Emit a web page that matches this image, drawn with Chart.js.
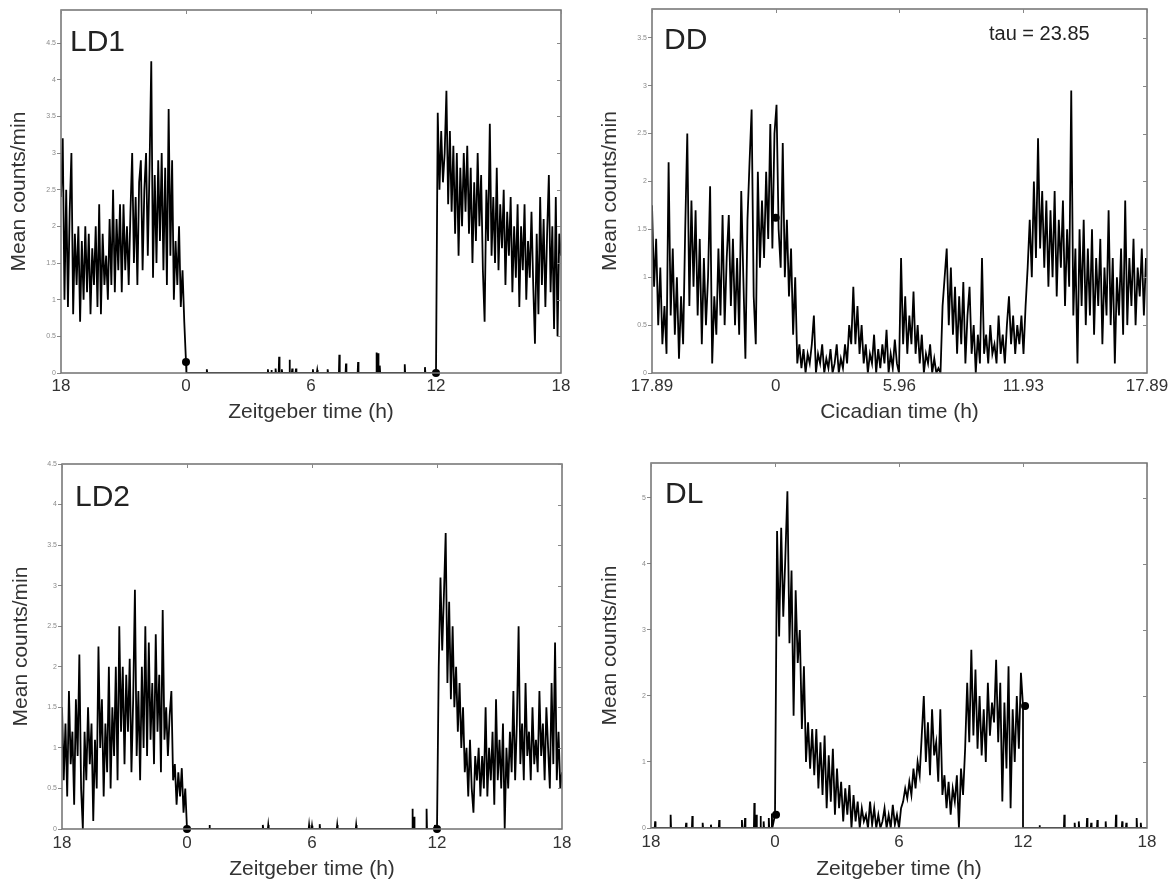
<!DOCTYPE html>
<html>
<head>
<meta charset="utf-8">
<title>Activity profiles</title>
<script src="https://cdn.jsdelivr.net/npm/chart.js@4.4.1/dist/chart.umd.min.js"></script>
<style>
  body { margin: 0; background: #fff; }
  #wrap { position: relative; width: 1173px; height: 884px; }
  canvas { position: absolute; }
</style>
</head>
<body>
<div id="wrap">
  <canvas id="ld1" width="586" height="440" style="left:0;top:0"></canvas>
  <canvas id="dd" width="587" height="440" style="left:586px;top:0"></canvas>
  <canvas id="ld2" width="586" height="444" style="left:0;top:440px"></canvas>
  <canvas id="dl" width="587" height="444" style="left:586px;top:440px"></canvas>
</div>
<script>
// axis ticks
const ldXTicks = [-6, 0, 6, 12, 18];
const ldXLabels = ['18', '0', '6', '12', '18'];
const ddXTicks = [-5.96, 0, 5.96, 11.93, 17.89];
const ddXLabels = ['17.89', '0', '5.96', '11.93', '17.89'];
const ldYTicks = [0, 0.5, 1, 1.5, 2, 2.5, 3, 3.5, 4, 4.5];
const ddYTicks = [0, 0.5, 1, 1.5, 2, 2.5, 3, 3.5];
const dlYTicks = [0, 1, 2, 3, 4, 5];

// LD1: 5-min bins, ZT18(-6) -> ZT0, then ZT12 -> ZT18
const ld1Pre = [
  2.4, 3.2, 1.0, 2.5, 0.9, 2.2, 3.0, 0.8, 1.9, 1.2, 2.0, 0.7,
  1.8, 1.0, 2.0, 1.1, 1.9, 0.8, 1.7, 1.2, 2.0, 0.9, 2.3, 0.8,
  1.9, 1.2, 1.6, 1.0, 2.1, 1.2, 2.5, 1.1, 2.1, 1.4, 2.3, 1.1,
  2.3, 1.4, 2.0, 1.2, 2.2, 3.0, 1.5, 2.4, 1.2, 2.6, 2.9, 1.4,
  2.5, 3.0, 1.6, 2.8, 4.25, 1.3, 2.7, 1.5, 2.9, 1.8, 3.0, 1.4,
  2.8, 1.2, 3.6, 1.6, 2.9, 1.0, 1.8, 1.2, 2.0, 0.9, 1.4, 0.7,
  0.15
];
const ld1Spikes = [
  [1.0, 0.05], [3.93, 0.05], [4.1, 0.04], [4.3, 0.06], [4.47, 0.22], [4.6, 0.05],
  [4.97, 0.18], [5.1, 0.06], [5.28, 0.06], [6.09, 0.05], [6.3, 0.04], [6.8, 0.05],
  [7.36, 0.25], [7.68, 0.13], [8.26, 0.15], [9.15, 0.28], [9.22, 0.27], [9.3, 0.1],
  [10.5, 0.12], [11.47, 0.08]
];
const ld1Post = [
  0.0, 3.55, 2.5, 3.3, 2.6, 3.0, 3.85, 2.3, 3.3, 2.2, 3.1, 1.9,
  3.0, 1.6, 2.8, 2.0, 3.0, 2.2, 3.1, 1.9, 2.8, 1.5, 2.6, 1.8,
  3.0, 2.0, 2.7, 1.4, 0.7, 2.5, 1.8, 3.4, 1.6, 2.4, 1.5, 2.8,
  1.4, 2.3, 1.7, 2.5, 1.2, 2.2, 1.6, 2.4, 1.1, 2.0, 1.3, 2.3,
  0.9, 2.0, 1.4, 2.3, 1.0, 1.8, 1.3, 2.2, 1.2, 0.4, 1.9, 0.8,
  2.4, 1.2, 2.1, 0.9, 1.9, 2.7, 1.1, 2.0, 0.6, 2.4, 0.5, 1.9,
  1.6
];
const ld1Dots = [[0, 0.15], [12, 0]];

// DD: 6-min bins from CT17.89(-5.96)
const ddVals = [
  1.75, 0.9, 1.4, 0.5, 1.1, 0.3, 0.7, 0.2, 2.2, 0.6,
  1.3, 0.4, 1.0, 0.15, 0.8, 0.3, 1.5, 2.5, 0.7, 1.8,
  0.9, 1.7, 0.6, 1.4, 0.3, 1.2, 0.5, 1.0, 1.95, 0.1,
  0.8, 0.4, 1.3, 0.6, 1.65, 0.5, 1.2, 1.65, 0.7, 1.4,
  0.5, 1.2, 0.4, 1.9, 1.0, 0.15, 1.6, 2.2, 2.75, 0.8,
  0.3, 2.1, 1.1, 1.8, 1.2, 2.1, 1.4, 2.6, 1.3, 2.5,
  2.8, 1.5, 1.1, 2.4, 1.0, 1.6, 0.8, 1.3, 0.4, 1.0,
  0.1, 0.3, 0.05, 0.25, 0.0, 0.2, 0.1, 0.3, 0.6, 0.0,
  0.2, 0.1, 0.3, 0.0, 0.15, 0.05, 0.25, 0.0, 0.1, 0.3,
  0.0, 0.15, 0.05, 0.3, 0.1, 0.5, 0.3, 0.9, 0.3, 0.7,
  0.2, 0.5, 0.1, 0.3, 0.0, 0.2, 0.1, 0.4, 0.0, 0.25,
  0.05, 0.3, 0.1, 0.45, 0.0, 0.2, 0.05, 0.35, 0.1, 0.0,
  1.2, 0.3, 0.8, 0.2, 0.6, 0.3, 0.85, 0.2, 0.5, 0.1,
  0.4, 0.0, 0.2, 0.1, 0.3, 0.0, 0.15, 0.0, 0.05, 0.0,
  0.7, 1.0, 1.3, 0.5, 1.1, 0.4, 0.9, 0.2, 0.8, 0.3,
  0.95, 0.1, 0.6, 0.9, 0.2, 0.5, 0.0, 0.4, 0.1, 1.2,
  0.2, 0.4, 0.1, 0.5, 0.2, 0.3, 0.1, 0.6, 0.2, 0.4,
  0.1, 0.5, 0.8, 0.3, 0.6, 0.2, 0.5, 0.3, 0.6, 0.2,
  0.7, 1.1, 1.6, 1.0, 2.0, 1.2, 2.45, 1.3, 1.9, 1.1,
  1.8, 0.9, 1.7, 1.0, 1.9, 0.8, 1.6, 1.1, 1.8, 0.7,
  1.5, 0.9, 2.95, 0.6, 1.3, 0.1, 1.5, 0.7, 1.6, 0.5,
  1.3, 0.6, 1.5, 0.4, 1.2, 0.7, 1.4, 0.3, 1.1, 0.6,
  1.7, 0.5, 1.2, 0.1, 1.0, 0.6, 1.3, 0.4, 1.8, 0.5,
  1.2, 0.7, 1.4, 0.5, 1.1, 0.8, 1.3, 0.6, 1.2, 0.9
];
const ddDots = [[0, 1.62]];

// LD2: 5-min bins
const ld2Pre = [
  1.5, 0.6, 1.3, 0.4, 1.7, 0.8, 1.2, 0.3, 1.6, 0.9, 2.15, 0.5,
  0.0, 1.2, 0.6, 1.5, 0.8, 1.3, 0.1, 1.1, 0.5, 2.25, 1.0, 1.6,
  0.4, 1.3, 0.7, 2.0, 0.5, 1.5, 0.9, 2.0, 0.6, 2.5, 1.2, 2.0,
  0.8, 1.9, 1.2, 2.1, 0.7, 1.6, 2.95, 0.9, 1.7, 0.6, 2.0, 1.0,
  2.5, 0.9, 2.3, 1.1, 1.8, 0.8, 2.4, 1.2, 1.9, 0.7, 2.7, 1.1,
  1.5, 0.9, 1.4, 1.7, 0.6, 0.8, 0.3, 0.7, 0.4, 0.75, 0.2, 0.5,
  0.0
];
const ld2Spikes = [
  [1.08, 0.05], [3.64, 0.05], [3.9, 0.05], [5.86, 0.05], [6.0, 0.04], [6.37, 0.06],
  [7.21, 0.05], [8.12, 0.05], [10.82, 0.25], [10.9, 0.15], [11.5, 0.25], [11.9, 0.05]
];
const ld2Post = [
  0.0, 2.0, 3.1, 2.2, 2.9, 3.65, 1.8, 2.8, 1.6, 2.5, 1.5, 2.0,
  1.2, 1.8, 1.0, 1.5, 0.7, 1.0, 0.4, 1.1, 0.5, 0.2, 0.9, 0.6,
  1.0, 0.4, 0.9, 0.5, 1.5, 0.4, 1.0, 0.6, 1.2, 0.3, 1.6, 0.6,
  1.1, 0.5, 1.3, 0.0, 1.0, 0.5, 1.2, 0.7, 1.7, 0.6, 1.3, 2.5,
  0.8, 1.3, 0.6, 1.8, 0.9, 1.2, 0.6, 1.5, 0.8, 1.1, 0.7, 1.7,
  0.9, 1.3, 0.6, 1.5, 1.0, 0.5, 1.8, 0.8, 2.3, 0.6, 1.2, 0.5,
  0.7
];
const ld2Dots = [[0, 0], [12, 0]];

// DL: 6-min bins from ZT0 to ZT12
const dlPreSpikes = [
  [-5.8, 0.1], [-5.05, 0.2], [-4.3, 0.08], [-4.0, 0.18], [-3.5, 0.08], [-3.1, 0.05],
  [-2.7, 0.12], [-1.6, 0.12], [-1.45, 0.15], [-1.0, 0.38], [-0.9, 0.2], [-0.7, 0.18],
  [-0.55, 0.1], [-0.3, 0.15], [-0.15, 0.22]
];
const dlDay = [
  0.2, 4.5, 2.9, 4.55, 3.2, 4.1, 5.1, 2.8, 3.9, 1.7,
  3.6, 2.5, 3.0, 1.5, 2.45, 1.0, 1.6, 0.9, 1.5, 0.8,
  1.5, 0.6, 1.3, 0.5, 1.4, 0.3, 1.1, 0.4, 1.2, 0.2,
  0.9, 0.3, 0.7, 0.1, 0.6, 0.2, 0.65, 0.0, 0.5, 0.1,
  0.4, 0.0, 0.3, 0.1, 0.2, 0.0, 0.4, 0.05, 0.3, 0.0,
  0.2, 0.0, 0.1, 0.3, 0.0, 0.2, 0.0, 0.35, 0.05, 0.2,
  0.0, 0.3, 0.4, 0.6, 0.45, 0.7, 0.5, 0.9, 0.6, 1.0,
  0.8, 1.4, 2.0, 1.0, 1.6, 0.8, 1.8, 1.1, 1.3, 0.7,
  1.8, 0.5, 0.8, 0.3, 0.7, 0.2, 0.6, 0.4, 0.8, 0.0,
  0.9, 0.5, 1.2, 2.2, 1.3, 2.7, 1.4, 2.4, 1.2, 2.0,
  1.1, 1.8, 1.0, 2.2, 1.4, 1.9, 1.6, 2.55, 1.3, 2.2,
  0.4, 1.9, 0.9, 2.45, 0.3, 1.8, 1.0, 2.0, 1.2, 2.35,
  1.85
];
const dlPostSpikes = [
  [12.8, 0.04], [14.0, 0.2], [14.5, 0.08], [14.7, 0.1], [15.1, 0.15], [15.3, 0.08],
  [15.6, 0.12], [16.0, 0.1], [16.5, 0.2], [16.8, 0.1], [17.0, 0.08], [17.5, 0.15], [17.7, 0.08]
];
const dlDots = [[0.05, 0.2], [12.1, 1.85]];

const FONT = '"Liberation Sans", Arial, sans-serif';

function seg(start, step, vals) {
  return vals.map((v, i) => ({ x: start + i * step, y: v }));
}
function spikes(list) {
  const pts = [];
  list.forEach(([t, v]) => pts.push({ x: t - 0.02, y: 0 }, { x: t, y: v }, { x: t + 0.02, y: 0 }));
  return pts;
}
function dots(list) {
  return list.map(([x, y]) => ({ x, y }));
}

// frame + small ticks on the right and top, plus the panel labels
const framePlugin = {
  id: 'frame',
  afterDraw(chart, args, o) {
    const { ctx, chartArea: a, scales } = chart;
    ctx.save();
    ctx.strokeStyle = '#707070';
    ctx.lineWidth = 1.5;
    ctx.strokeRect(a.left, a.top, a.right - a.left, a.bottom - a.top);
    ctx.lineWidth = 1;
    ctx.strokeStyle = '#888';
    ctx.beginPath();
    scales.y.ticks.forEach(t => {
      const py = Math.round(scales.y.getPixelForValue(t.value)) + 0.5;
      ctx.moveTo(a.right - 4, py); ctx.lineTo(a.right, py);
    });
    scales.x.ticks.forEach(t => {
      const px = Math.round(scales.x.getPixelForValue(t.value)) + 0.5;
      ctx.moveTo(px, a.top); ctx.lineTo(px, a.top + 4);
    });
    ctx.stroke();
    ctx.fillStyle = '#222';
    ctx.font = '30px ' + FONT;
    ctx.fillText(o.label, a.left + o.dx, a.top + o.dy);
    if (o.note) {
      ctx.font = '20px ' + FONT;
      ctx.fillText(o.note, a.left + o.ndx, a.top + o.ndy);
    }
    ctx.restore();
  }
};

function panel(id, cfg) {
  new Chart(document.getElementById(id), {
    type: 'line',
    data: {
      datasets: [
        { data: cfg.trace, borderColor: '#000', borderWidth: 1.8, pointRadius: 0, tension: 0 },
        { data: cfg.dots, showLine: false, pointRadius: 4, pointBackgroundColor: '#000',
          pointBorderWidth: 0, clip: false }
      ]
    },
    options: {
      responsive: false,
      animation: false,
      devicePixelRatio: 1,
      events: [],
      layout: { padding: { top: cfg.padTop, right: cfg.padRight, left: 0, bottom: 0 } },
      plugins: {
        legend: { display: false },
        tooltip: { enabled: false },
        frame: cfg.text
      },
      scales: {
        x: {
          type: 'linear',
          min: cfg.xTicks[0],
          max: cfg.xTicks[cfg.xTicks.length - 1],
          afterBuildTicks: s => { s.ticks = cfg.xTicks.map(v => ({ value: v })); },
          afterFit: s => { s.height = cfg.xHeight; },
          grid: { display: false, drawTicks: false },
          border: { display: false },
          ticks: {
            autoSkip: false, maxRotation: 0, padding: cfg.xTickPad, color: '#333',
            font: { family: FONT, size: 17 },
            callback: (v, i) => cfg.xLabels[i]
          },
          title: {
            display: true, text: cfg.xTitle, color: '#333',
            font: { family: FONT, size: 21 }, padding: { top: 0, bottom: cfg.xTitlePad }
          }
        },
        y: {
          min: 0,
          max: cfg.yMax,
          afterBuildTicks: s => { s.ticks = cfg.yTicks.map(v => ({ value: v })); },
          afterFit: s => { s.width = cfg.yWidth; },
          grid: { display: true, drawOnChartArea: false, drawTicks: true, tickLength: 4, color: '#888' },
          border: { display: false },
          ticks: {
            padding: 1, color: '#8a8a8a',
            font: { family: FONT, size: 7 },
            callback: v => String(v)
          },
          title: {
            display: true, text: 'Mean counts/min', color: '#333',
            font: { family: FONT, size: 21 }, padding: { top: cfg.yTitlePad, bottom: 0 }
          }
        }
      }
    },
    plugins: [framePlugin]
  });
}

panel('ld1', {
  trace: [...seg(-6, 1 / 12, ld1Pre), { x: 0.02, y: 0 }, ...spikes(ld1Spikes), ...seg(12, 1 / 12, ld1Post)],
  dots: dots(ld1Dots),
  xTicks: ldXTicks, xLabels: ldXLabels, yTicks: ldYTicks, yMax: 4.95,
  padTop: 10, padRight: 25, yWidth: 61, xHeight: 67, xTickPad: 3, xTitlePad: 15, yTitlePad: 7,
  xTitle: 'Zeitgeber time (h)',
  text: { label: 'LD1', dx: 9, dy: 41 }
});

panel('dd', {
  trace: seg(-5.96, 0.1, ddVals),
  dots: dots(ddDots),
  xTicks: ddXTicks, xLabels: ddXLabels, yTicks: ddYTicks, yMax: 3.8,
  padTop: 9, padRight: 26, yWidth: 66, xHeight: 67, xTickPad: 3, xTitlePad: 15, yTitlePad: 12,
  xTitle: 'Cicadian time (h)',
  text: { label: 'DD', dx: 12, dy: 40, note: 'tau = 23.85', ndx: 337, ndy: 31 }
});

panel('ld2', {
  trace: [...seg(-6, 1 / 12, ld2Pre), ...spikes(ld2Spikes), ...seg(12, 1 / 12, ld2Post)],
  dots: dots(ld2Dots),
  xTicks: ldXTicks, xLabels: ldXLabels, yTicks: ldYTicks, yMax: 4.5,
  padTop: 24, padRight: 24, yWidth: 62, xHeight: 55, xTickPad: 4, xTitlePad: 2, yTitlePad: 9,
  xTitle: 'Zeitgeber time (h)',
  text: { label: 'LD2', dx: 13, dy: 42 }
});

panel('dl', {
  trace: [{ x: -6, y: 0 }, ...spikes(dlPreSpikes), ...seg(0, 0.1, dlDay), { x: 12, y: 0 },
          ...spikes(dlPostSpikes), { x: 18, y: 0 }],
  dots: dots(dlDots),
  xTicks: ldXTicks, xLabels: ldXLabels, yTicks: dlYTicks, yMax: 5.53,
  padTop: 23, padRight: 26, yWidth: 65, xHeight: 56, xTickPad: 4, xTitlePad: 2, yTitlePad: 12,
  xTitle: 'Zeitgeber time (h)',
  text: { label: 'DL', dx: 14, dy: 40 }
});
</script>
</body>
</html>
